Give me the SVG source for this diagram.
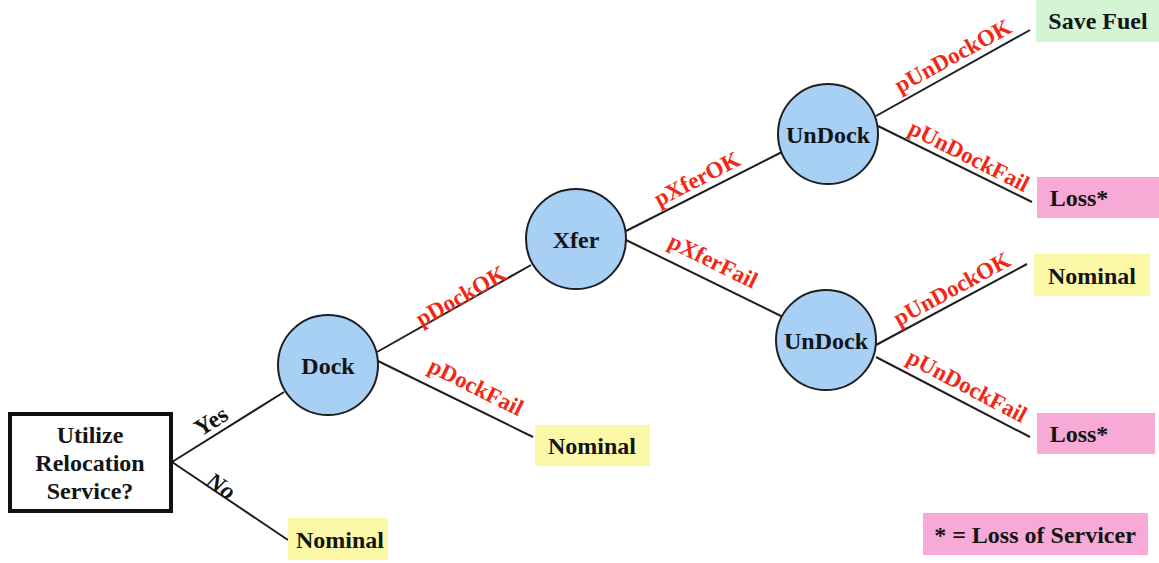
<svg xmlns="http://www.w3.org/2000/svg" width="1159" height="563" viewBox="0 0 1159 563">
<style>
text{font-family:"Liberation Serif","Times New Roman",serif;font-weight:bold;font-size:24px;fill:#141414;text-anchor:middle;dominant-baseline:central}
.lbl{fill:#f02814;font-size:23px}
.c{fill:#a8d0f5;stroke:#1e1e1e;stroke-width:2}
.e line{stroke:#1e1e1e;stroke-width:2}
.y{fill:#fbf8a8}
.g{fill:#d3f5d3}
.p{fill:#f7aad6}
</style>
<rect width="1159" height="563" fill="#fff"/>
<g class="e" id="connectors">
<line x1="172" y1="462" x2="284" y2="392"/>
<line x1="172" y1="462" x2="288" y2="540"/>
<line x1="377" y1="352" x2="531" y2="265"/>
<line x1="378" y1="361" x2="533" y2="437"/>
<line x1="626" y1="231" x2="782" y2="152"/>
<line x1="626" y1="240" x2="785" y2="318"/>
<line x1="876" y1="116" x2="1030" y2="30"/>
<line x1="878" y1="126" x2="1032" y2="202"/>
<line x1="876" y1="345" x2="1027" y2="264"/>
<line x1="876" y1="357" x2="1030" y2="437"/>
</g>
<g id="edge-labels">
<text x="211" y="421" transform="rotate(-32 211 421)">Yes</text>
<text x="221" y="486" font-style="italic" transform="rotate(34 221 486)">No</text>
<text class="lbl" x="461" y="296" transform="rotate(-29.5 461 296)">pDockOK</text>
<text class="lbl" x="476" y="387" transform="rotate(26.4 476 387)">pDockFail</text>
<text class="lbl" x="697" y="179" transform="rotate(-27.3 697 179)">pXferOK</text>
<text class="lbl" x="713" y="261" transform="rotate(26.3 713 261)">pXferFail</text>
<text class="lbl" x="953" y="56" transform="rotate(-28.7 953 56)">pUnDockOK</text>
<text class="lbl" x="969" y="156" transform="rotate(26.9 969 156)">pUnDockFail</text>
<text class="lbl" x="952" y="289" transform="rotate(-28.5 952 289)">pUnDockOK</text>
<text class="lbl" x="967" y="386" transform="rotate(27.7 967 386)">pUnDockFail</text>
</g>
<g id="decision">
<rect x="10" y="414" width="161" height="97" fill="#fff" stroke="#111" stroke-width="4"/>
<text x="90" y="435">Utilize</text>
<text x="90" y="463">Relocation</text>
<text x="90" y="491">Service?</text>
</g>
<g id="dock"><circle class="c" cx="328" cy="365" r="50"/><text x="328" y="366">Dock</text></g>
<g id="xfer"><circle class="c" cx="576" cy="239" r="50"/><text x="576" y="240">Xfer</text></g>
<g id="undock1"><circle class="c" cx="828" cy="134" r="50"/><text x="828" y="135">UnDock</text></g>
<g id="undock2"><circle class="c" cx="826" cy="340" r="50"/><text x="826" y="341">UnDock</text></g>
<g id="nominal-no"><rect class="y" x="288" y="518" width="100" height="42"/><text x="340" y="540">Nominal</text></g>
<g id="nominal-dockfail"><rect class="y" x="535" y="425" width="115" height="41"/><text x="592" y="446">Nominal</text></g>
<g id="save-fuel"><rect class="g" x="1036" y="0" width="123" height="42"/><text x="1098" y="21">Save Fuel</text></g>
<g id="loss1"><rect class="p" x="1037" y="177" width="122" height="41"/><text x="1079" y="198">Loss*</text></g>
<g id="nominal-undock"><rect class="y" x="1034" y="254" width="116" height="42"/><text x="1092" y="276">Nominal</text></g>
<g id="loss2"><rect class="p" x="1037" y="413" width="118" height="41"/><text x="1079" y="434">Loss*</text></g>
<g id="legend"><rect class="p" x="923" y="513" width="225" height="42"/><text x="1035" y="535">* = Loss of Servicer</text></g>
</svg>
